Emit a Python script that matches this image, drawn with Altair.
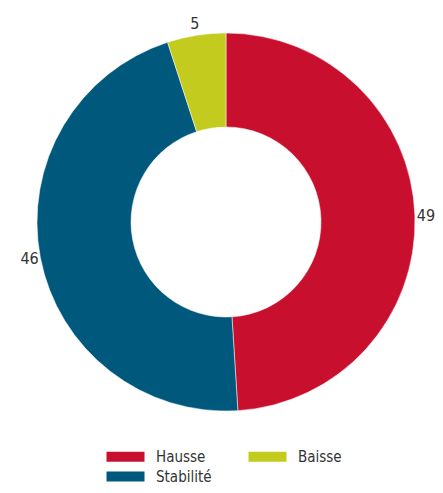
import altair as alt
import pandas as pd

categories = ["Hausse", "Stabilité", "Baisse"]
values = [49, 46, 5]
order = [1, 2, 3]
legend_order = ["Hausse", "Baisse", "Stabilité"]
legend_colors = ["#C8102E", "#C3CB1E", "#00587C"]

df = pd.DataFrame({"cat": categories, "value": values, "ord": order})

FONT = "DejaVu Sans Condensed, Liberation Sans Narrow, Roboto, sans-serif"

base = alt.Chart(df).encode(
    theta=alt.Theta("value:Q", stack=True),
    order=alt.Order("ord:Q"),
)

arcs = base.mark_arc(outerRadius=189, innerRadius=95, stroke="white", strokeWidth=0.5).encode(
    color=alt.Color(
        "cat:N",
        scale=alt.Scale(domain=legend_order, range=legend_colors),
        legend=alt.Legend(
            title=None,
            orient="none",
            direction="horizontal",
            legendX=101,
            legendY=441,
            columns=2,
            columnPadding=36,
            rowPadding=4,
            symbolType="M-3.8,-1L3.8,-1L3.8,1L-3.8,1Z",
            symbolSize=100,
            symbolStrokeWidth=0,
            labelOffset=23,
            labelFont=FONT,
            labelFontSize=15,
            labelColor="#333333",
            padding=0,
        ),
    )
)

labels = base.mark_text(radius=200, font=FONT, fontSize=16, color="#333333").encode(
    text="value:Q"
)

chart = (
    (arcs + labels)
    .properties(
        width=418,
        height=428,
        padding={"left": 9, "top": 0, "right": 0, "bottom": 49},
        autosize=alt.AutoSizeParams(type="none"),
    )
    .configure_view(stroke=None)
)

chart.save("out.html", embed_options={"renderer": "svg", "actions": False})
